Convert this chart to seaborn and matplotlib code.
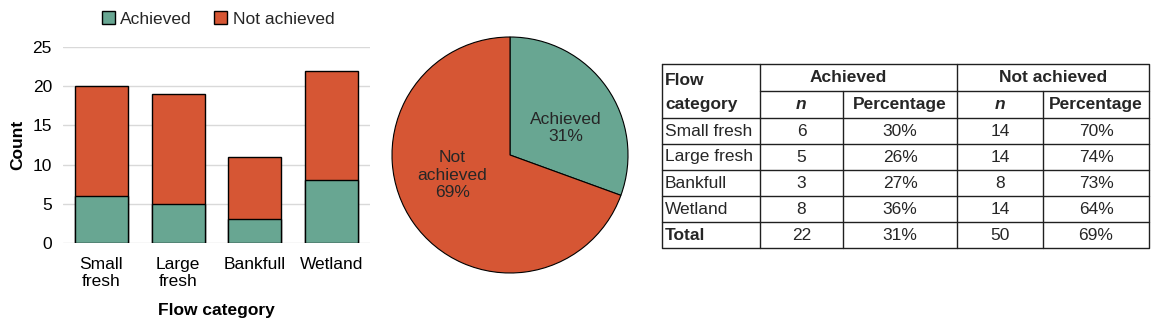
import matplotlib
matplotlib.use("Agg")
import matplotlib.pyplot as plt
import pandas as pd
import seaborn as sns
from matplotlib.patches import Patch

# data
categories = ["Small fresh", "Large fresh", "Bankfull", "Wetland"]
tick_labels = ["Small\nfresh", "Large\nfresh", "Bankfull", "Wetland"]
achieved = [6, 5, 3, 8]
not_achieved = [14, 14, 8, 14]
status_labels = ["Achieved", "Not achieved"]

GREEN = "#68a692"
ORANGE = "#d65634"
W, H = 1158, 326

sns.set_theme(style="white")
plt.rcParams["font.family"] = ["Liberation Sans", "DejaVu Sans"]
plt.rcParams["font.size"] = 12.5

df = pd.DataFrame({"category": categories, "achieved": achieved,
                   "not_achieved": not_achieved})
df["total"] = df["achieved"] + df["not_achieved"]
df["pct_a"] = (100 * df["achieved"] / df["total"]).round().astype(int)
df["pct_n"] = (100 * df["not_achieved"] / df["total"]).round().astype(int)
tot_a, tot_n = df["achieved"].sum(), df["not_achieved"].sum()
tot_pa = round(100 * tot_a / (tot_a + tot_n))
tot_pn = round(100 * tot_n / (tot_a + tot_n))

fig = plt.figure(figsize=(W / 100, H / 100), dpi=100)


def box(l, t, r, b):
    return [l / W, 1 - b / H, (r - l) / W, (b - t) / H]


# --- stacked bar chart ---
ax = fig.add_axes(box(63, 47, 370, 243))
bar_kw = dict(width=0.69, edgecolor="black", linewidth=1, saturation=1,
              errorbar=None, ax=ax)
sns.barplot(data=df, x="category", y="total", color=ORANGE, **bar_kw)
sns.barplot(data=df, x="category", y="achieved", color=GREEN, **bar_kw)
ax.set_ylim(0, 25)
ax.set_yticks(range(0, 26, 5))
ax.set_xticks(range(len(categories)))
ax.set_xticklabels(tick_labels)
ax.grid(axis="y", color="#d9d9d9", linewidth=1)
ax.set_axisbelow(True)
for s in ax.spines.values():
    s.set_visible(False)
ax.tick_params(axis="both", length=0, labelsize=12.5, colors="black")
ax.tick_params(axis="y", pad=8)
ax.tick_params(axis="x", pad=10)
ax.set_ylabel("Count", fontweight="bold", fontsize=12.5, labelpad=5, color="black")
ax.set_xlabel("Flow category", fontweight="bold", fontsize=12.5, labelpad=10, color="black")

fig.legend(handles=[Patch(facecolor=GREEN, edgecolor="black"),
                    Patch(facecolor=ORANGE, edgecolor="black")],
           labels=status_labels, loc="center", bbox_to_anchor=(218 / W, 1 - 19 / H),
           ncol=2, frameon=False, fontsize=12.5, handlelength=0.75,
           handleheight=0.75, handletextpad=0.3, columnspacing=1.3)

# --- pie chart ---
r = 118 * 1.02
axp = fig.add_axes(box(510 - r, 155 - r, 510 + r, 155 + r))
axp.pie([tot_a, tot_n], colors=[GREEN, ORANGE], startangle=90, counterclock=False,
        wedgeprops=dict(edgecolor="black", linewidth=0.8))
axp.set_xlim(-1.02, 1.02)
axp.set_ylim(-1.02, 1.02)
axp.text(0.47, 0.23, f"Achieved\n{tot_pa}%", ha="center", va="center", fontsize=12.5)
axp.text(-0.49, -0.17, f"Not\nachieved\n{tot_pn}%", ha="center", va="center",
         fontsize=12.5)

# --- summary table ---
xs = [662, 760, 843, 957, 1043, 1149]
ys = [64, 91, 118, 144, 170, 196, 222, 248]
axt = fig.add_axes(box(xs[0] - 2, ys[0] - 2, xs[-1] + 2, ys[-1] + 2))
axt.set_xlim(xs[0] - 2, xs[-1] + 2)
axt.set_ylim(ys[-1] + 2, ys[0] - 2)
axt.axis("off")
lk = dict(color="#202020", linewidth=1)
axt.plot([xs[0], xs[-1], xs[-1], xs[0], xs[0]], [ys[0], ys[0], ys[-1], ys[-1], ys[0]], **lk)
axt.plot([xs[1], xs[-1]], [ys[1], ys[1]], **lk)
for y in ys[2:-1]:
    axt.plot([xs[0], xs[-1]], [y, y], **lk)
for x in (xs[1], xs[3]):
    axt.plot([x, x], [ys[0], ys[-1]], **lk)
for x in (xs[2], xs[4]):
    axt.plot([x, x], [ys[1], ys[-1]], **lk)

cx = [(a + b) / 2 for a, b in zip(xs[:-1], xs[1:])]
cy = [(a + b) / 2 for a, b in zip(ys[:-1], ys[1:])]
fs = 12.5
axt.text(665, cy[0] + 3, "Flow", ha="left", va="center", fontweight="bold", fontsize=fs)
axt.text(665, cy[1], "category", ha="left", va="center", fontweight="bold", fontsize=fs)
axt.text(848, cy[0], "Achieved", ha="center", va="center", fontweight="bold", fontsize=fs)
axt.text((xs[3] + xs[5]) / 2, cy[0], "Not achieved", ha="center", va="center",
         fontweight="bold", fontsize=fs)
for c in (1, 3):
    axt.text(cx[c], cy[1], "n", ha="center", va="center", fontweight="bold",
             fontstyle="italic", fontsize=fs)
for c in (2, 4):
    axt.text(cx[c], cy[1], "Percentage", ha="center", va="center",
             fontweight="bold", fontsize=fs)

rows = [(row.category, row.achieved, row.pct_a, row.not_achieved, row.pct_n)
        for row in df.itertuples()]
rows.append(("Total", tot_a, tot_pa, tot_n, tot_pn))
for i, (name, a, pa, n, pn) in enumerate(rows):
    y = cy[i + 2]
    axt.text(665, y, name, ha="left", va="center", fontsize=fs,
             fontweight="bold" if name == "Total" else "normal")
    for c, v in zip(range(1, 5), [str(a), f"{pa}%", str(n), f"{pn}%"]):
        axt.text(cx[c], y, v, ha="center", va="center", fontsize=fs)

fig.savefig("out.png", dpi=100)
